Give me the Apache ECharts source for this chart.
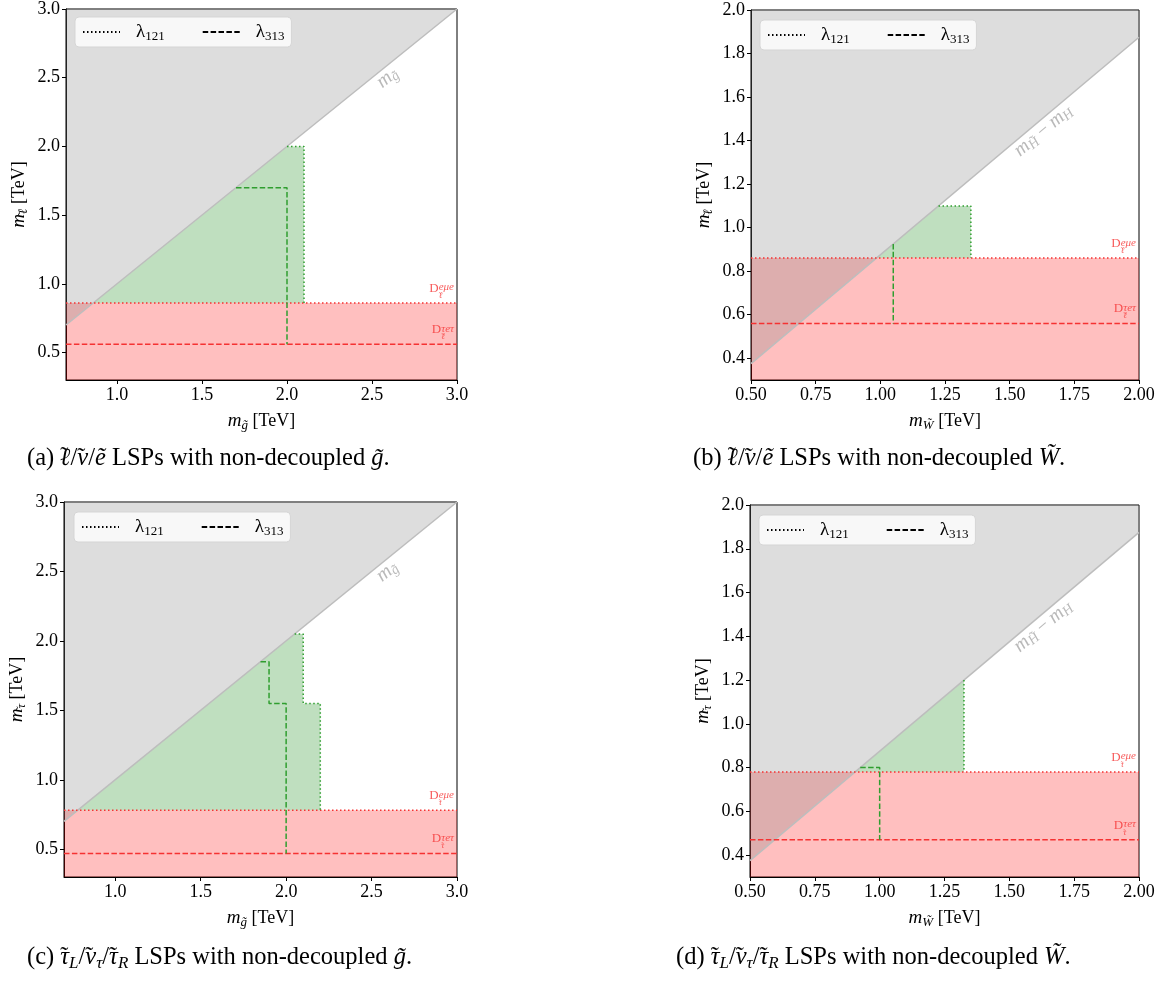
<!DOCTYPE html>
<html><head><meta charset="utf-8">
<script src="https://cdn.jsdelivr.net/npm/echarts@6/dist/echarts.min.js"></script>
<style>html,body{margin:0;padding:0;background:#fff}#c{width:1163px;height:985px}</style>
</head><body><div id="c"></div>
<script>
const SERIF = "'Liberation Serif', 'DejaVu Serif', serif";

// ---------- data ----------
const xLimGluino = [0.7, 3.0];
const xLimWino = [0.5, 2.0];
const yLimGluino = [0.3, 3.0];
const yLimWino = [0.3, 2.0];
const xTicksGluino = [1.0, 1.5, 2.0, 2.5, 3.0];
const yTicksGluino = [0.5, 1.0, 1.5, 2.0, 2.5, 3.0];
const xTicksWino = [0.5, 0.75, 1.0, 1.25, 1.5, 1.75, 2.0];
const yTicksWino = [0.4, 0.6, 0.8, 1.0, 1.2, 1.4, 1.6, 1.8, 2.0];
const diagOffsetGluino = 0.0;     // m_gluino line
const diagOffsetWino = 0.125;     // m_higgsino - m_H line
const dEmuSlepton = 0.86, dTauSlepton = 0.56;
const dEmuStau = 0.78, dTauStau = 0.47;

const greenA = [[0.86, 0.86], [2.0, 2.0], [2.1, 2.0], [2.1, 0.86]];
const l121A = [[2.0, 2.0], [2.1, 2.0], [2.1, 0.86]];
const l313A = [[1.7, 1.7], [2.0, 1.7], [2.0, 0.56]];

const greenB = [[0.985, 0.86], [1.225, 1.1], [1.35, 1.1], [1.35, 0.86]];
const l121B = [[1.225, 1.1], [1.35, 1.1], [1.35, 0.86]];
const l313B = [[1.05, 0.925], [1.05, 0.56]];

const greenC = [[0.78, 0.78], [2.05, 2.05], [2.1, 2.05], [2.1, 1.55], [2.2, 1.55], [2.2, 0.78]];
const l121C = [[2.05, 2.05], [2.1, 2.05], [2.1, 1.55], [2.2, 1.55], [2.2, 0.78]];
const l313C = [[1.85, 1.85], [1.9, 1.85], [1.9, 1.55], [2.0, 1.55], [2.0, 0.47]];

const greenD = [[0.905, 0.78], [1.325, 1.2], [1.325, 0.78]];
const l121D = [[1.325, 1.2], [1.325, 0.78]];
const l313D = [[0.925, 0.8], [1.0, 0.8], [1.0, 0.47]];

const diagLabelPosGluino = [2.59, 2.50];
const diagLabelPosWino = [1.63, 1.445];

// ---------- layout / style ----------
const grids = [
  {left: 66, top: 6, width: 391, height: 374},
  {left: 751, top: 10, width: 388, height: 370},
  {left: 64, top: 502, width: 393, height: 375},
  {left: 750, top: 505, width: 389, height: 372}
];
const legendPos = [[75, 17], [760, 20], [74, 512], [759, 515]];
const RED = '#f53232', GREEN = '#2f9e2f', DIAGTXT = '#a8a8a8';
const T = '\u0303';   // combining tilde (works for g, W, H)
const TL = '\u02dc';  // spacing tilde, overlaid on ℓ, ν, τ

const series = [];
const xAxes = [], yAxes = [];

function poly(i, pts, fill, z) {
  return {type: 'custom', xAxisIndex: i, yAxisIndex: i, clip: true, z: z, silent: true,
    data: pts,
    renderItem: (p, api) => {
      if (p.dataIndex !== 0) return null;
      return {type: 'polygon', shape: {points: pts.map(q => api.coord(q))}, style: {fill: fill}};
    }};
}
function line(i, pts, color, type, z, name) {
  return {type: 'line', name: name, xAxisIndex: i, yAxisIndex: i, data: pts, symbol: 'none', silent: true,
    z: z, animation: false, lineStyle: {color: color, width: 1.5, type: type}};
}
// axis names: main lineHeight 22, sub 13 (bottom)
const nameRich = {
  i: {fontStyle: 'italic', fontSize: 19, lineHeight: 22, fontFamily: SERIF},
  sub: {fontStyle: 'italic', fontSize: 13, lineHeight: 13, verticalAlign: 'bottom', fontFamily: SERIF},
  tH: {width: 0.001, fontSize: 13, lineHeight: 19, verticalAlign: 'bottom', fontFamily: SERIF},
  tX: {width: 0.001, fontSize: 13, lineHeight: 13, verticalAlign: 'bottom', fontFamily: SERIF}
};
function axis(i, lim, ticks, dec, name, isX) {
  return {type: 'value', gridIndex: i, min: lim[0], max: lim[1],
    axisLine: {show: true, onZero: false, lineStyle: {color: '#000', width: 1}},
    axisTick: {show: true, customValues: ticks, length: 4, lineStyle: {color: '#000', width: 1}},
    axisLabel: {customValues: ticks, formatter: v => v.toFixed(dec), color: '#000',
      fontFamily: SERIF, fontSize: 18, margin: 6},
    splitLine: {show: false},
    name: name, nameLocation: 'middle', nameGap: isX ? 30 : 36,
    nameTextStyle: {fontFamily: SERIF, fontSize: 18, color: '#000', lineHeight: 22, rich: nameRich}
  };
}
// D label on one line: D, zero-width tilde + subscript, then superscript
function dLabel(sup, subTilde, sub) {
  return '{h| }{D|D}{' + subTilde + '|' + TL + '}{sub|' + sub + '}{sup|' + sup + '}';
}
const dBase = {color: RED, fontFamily: SERIF, align: 'left'};
const dRich = {
  h: Object.assign({width: 0.001, fontSize: 8, lineHeight: 18}, dBase),
  D: Object.assign({fontSize: 13, lineHeight: 13, verticalAlign: 'top'}, dBase),
  sup: Object.assign({fontSize: 11, fontStyle: 'italic', lineHeight: 10, verticalAlign: 'top'}, dBase),
  sub: Object.assign({width: 0.001, fontSize: 8.5, fontStyle: 'italic', lineHeight: 8.5, verticalAlign: 'bottom'}, dBase),
  tH: Object.assign({width: 0.001, fontSize: 8.5, lineHeight: 12.4, verticalAlign: 'bottom'}, dBase),
  tX: Object.assign({width: 0.001, fontSize: 8.5, lineHeight: 8.5, verticalAlign: 'bottom'}, dBase)
};

function panel(i, o) {
  const [x0, x1] = o.xLim, [y0, y1] = o.yLim;
  xAxes.push(axis(i, o.xLim, o.xTicks, o.xDec, o.xName, true));
  yAxes.push(axis(i, o.yLim, o.yTicks, 1, o.yName, false));
  series.push(poly(i, [[x0, y0], [x1, y0], [x1, o.dEmu], [x0, o.dEmu]], 'rgba(255,0,0,0.25)', 1));
  series.push(poly(i, o.green, 'rgba(0,128,0,0.25)', 2));
  series.push(poly(i, [[x0, x0 - o.off], [x1, x1 - o.off], [x1, y1], [x0, y1]], 'rgba(128,128,128,0.27)', 3));
  series.push(line(i, [[x0, x0 - o.off], [x1, x1 - o.off]], '#bdbdbd', 'solid', 4));
  series.push(line(i, [[x0, o.dEmu], [x1, o.dEmu]], RED, [1.5, 2.5], 5));
  series.push(line(i, [[x0, o.dTau], [x1, o.dTau]], RED, [5.5, 2.4], 5));
  series.push(line(i, o.l121, GREEN, [1.5, 2.5], 6));
  series.push(line(i, o.l313, GREEN, [5.5, 2.4], 6));
  series.push({type: 'scatter', xAxisIndex: i, yAxisIndex: i, symbolSize: 0, silent: true, z: 8,
    animation: false,
    data: [
      {value: [x1, o.dEmu], label: {formatter: dLabel('eμe', o.sfxT, o.sfx)}},
      {value: [x1, o.dTau], label: {formatter: dLabel('τeτ', o.sfxT, o.sfx)}}
    ],
    label: {show: true, position: 'insideBottomRight', distance: 3, rich: dRich, color: RED}});
  series.push({type: 'scatter', xAxisIndex: i, yAxisIndex: i, symbolSize: 0, silent: true, z: 8,
    animation: false,
    data: [{value: o.diagPos}],
    label: {show: true, position: 'inside', rotate: o.rot, formatter: o.diagText, color: DIAGTXT,
      fontFamily: SERIF, fontSize: 19, lineHeight: 22,
      rich: {i: {fontStyle: 'italic', fontSize: 20, lineHeight: 22, color: DIAGTXT, fontFamily: SERIF},
             sub: {fontStyle: 'italic', fontSize: 14, lineHeight: 14, verticalAlign: 'bottom', color: DIAGTXT, fontFamily: SERIF},
             t: {fontSize: 19, lineHeight: 22, color: DIAGTXT, fontFamily: SERIF}}}});
}

const gl = '{i|m}{sub|g' + T + '}';
const wl = '{i|m}{sub|W' + T + '}';
const lepName = '{i|m}{tH|' + TL + '}{sub|ℓ} [TeV]';
const tauName = '{i|m}{tX|' + TL + '}{sub|τ} [TeV]';
const hText = '{i|m}{sub|H' + T + '}{t| − }{i|m}{sub|H}';
panel(0, {xLim: xLimGluino, yLim: yLimGluino, xTicks: xTicksGluino, yTicks: yTicksGluino, xDec: 1,
  xName: gl + ' [TeV]', yName: lepName, off: diagOffsetGluino,
  dEmu: dEmuSlepton, dTau: dTauSlepton, green: greenA, l121: l121A, l313: l313A, sfx: 'ℓ', sfxT: 'tH',
  diagPos: diagLabelPosGluino, rot: 39, diagText: gl});
panel(1, {xLim: xLimWino, yLim: yLimWino, xTicks: xTicksWino, yTicks: yTicksWino, xDec: 2,
  xName: wl + ' [TeV]', yName: lepName, off: diagOffsetWino,
  dEmu: dEmuSlepton, dTau: dTauSlepton, green: greenB, l121: l121B, l313: l313B, sfx: 'ℓ', sfxT: 'tH',
  diagPos: diagLabelPosWino, rot: 40, diagText: hText});
panel(2, {xLim: xLimGluino, yLim: yLimGluino, xTicks: xTicksGluino, yTicks: yTicksGluino, xDec: 1,
  xName: gl + ' [TeV]', yName: tauName, off: diagOffsetGluino,
  dEmu: dEmuStau, dTau: dTauStau, green: greenC, l121: l121C, l313: l313C, sfx: 'τ', sfxT: 'tX',
  diagPos: diagLabelPosGluino, rot: 39, diagText: gl});
panel(3, {xLim: xLimWino, yLim: yLimWino, xTicks: xTicksWino, yTicks: yTicksWino, xDec: 2,
  xName: wl + ' [TeV]', yName: tauName, off: diagOffsetWino,
  dEmu: dEmuStau, dTau: dTauStau, green: greenD, l121: l121D, l313: l313D, sfx: 'τ', sfxT: 'tX',
  diagPos: diagLabelPosWino, rot: 40, diagText: hText});

// legend-only series (black)
series.push({type: 'line', name: 'λ121', xAxisIndex: 0, yAxisIndex: 0, data: [], symbol: 'none',
  itemStyle: {color: '#000'}, lineStyle: {color: '#000', width: 1.5, type: [1.5, 2.5]}});
series.push({type: 'line', name: 'λ313', xAxisIndex: 0, yAxisIndex: 0, data: [], symbol: 'none',
  itemStyle: {color: '#000'}, lineStyle: {color: '#000', width: 1.5, type: [5.5, 2.4]}});

// captions: main lineHeight 28 (middle)
const capRich = {
  i: {fontStyle: 'italic', fontSize: 24.5, lineHeight: 28, fontFamily: SERIF},
  sub: {fontStyle: 'italic', fontSize: 17, lineHeight: 17, verticalAlign: 'bottom', fontFamily: SERIF},
  tH: {width: 0.001, fontSize: 24.5, lineHeight: 16, verticalAlign: 'top', fontFamily: SERIF},
  tX: {width: 0.001, fontSize: 24.5, lineHeight: 28, fontFamily: SERIF}
};
function caption(left, top, text) {
  return {type: 'text', left: left, top: top, silent: true,
    style: {text: text, rich: capRich, fontFamily: SERIF, fontSize: 24.5, lineHeight: 28, fill: '#000'}};
}
const capLep = '{tH|' + TL + '}{i|ℓ}/{tX|' + TL + '}{i|ν}/{i|ẽ}';
const capTau = '{tX|' + TL + '}{i|τ}{sub|L}/{tX|' + TL + '}{i|ν}{sub|τ}/{tX|' + TL + '}{i|τ}{sub|R}';

const option = {
  animation: false,
  backgroundColor: '#fff',
  grid: grids.map(g => Object.assign({show: true, borderColor: '#000', borderWidth: 1, backgroundColor: 'transparent'}, g)),
  xAxis: xAxes,
  yAxis: yAxes,
  legend: legendPos.map(([l, t]) => ({
    left: l, top: t, orient: 'horizontal', data: ['λ121', 'λ313'], selectedMode: false,
    itemWidth: 37, itemHeight: 12, itemGap: 37, padding: [4, 7, 4, 7],
    itemStyle: {opacity: 0, color: 'transparent', borderWidth: 0},
    backgroundColor: 'rgba(255,255,255,0.8)', borderColor: '#d5d5d5', borderWidth: 1, borderRadius: 4,
    textStyle: {fontFamily: SERIF, fontSize: 19, color: '#000', lineHeight: 22, padding: [0, 0, 0, 11],
      rich: {s: {fontSize: 13, lineHeight: 13, verticalAlign: 'bottom', fontFamily: SERIF, color: '#000'}}},
    formatter: n => 'λ{s|' + n.slice(1) + '}', z: 20
  })),
  series: series,
  graphic: [
    caption(27, 445, '(a) ' + capLep + ' LSPs with non-decoupled {i|g' + T + '}.'),
    caption(693, 445, '(b) ' + capLep + ' LSPs with non-decoupled {i|W' + T + '}.'),
    caption(27, 944, '(c) ' + capTau + ' LSPs with non-decoupled {i|g' + T + '}.'),
    caption(676, 944, '(d) ' + capTau + ' LSPs with non-decoupled {i|W' + T + '}.')
  ]
};
echarts.init(document.getElementById('c'), null, {renderer: 'canvas'}).setOption(option);
</script></body></html>
